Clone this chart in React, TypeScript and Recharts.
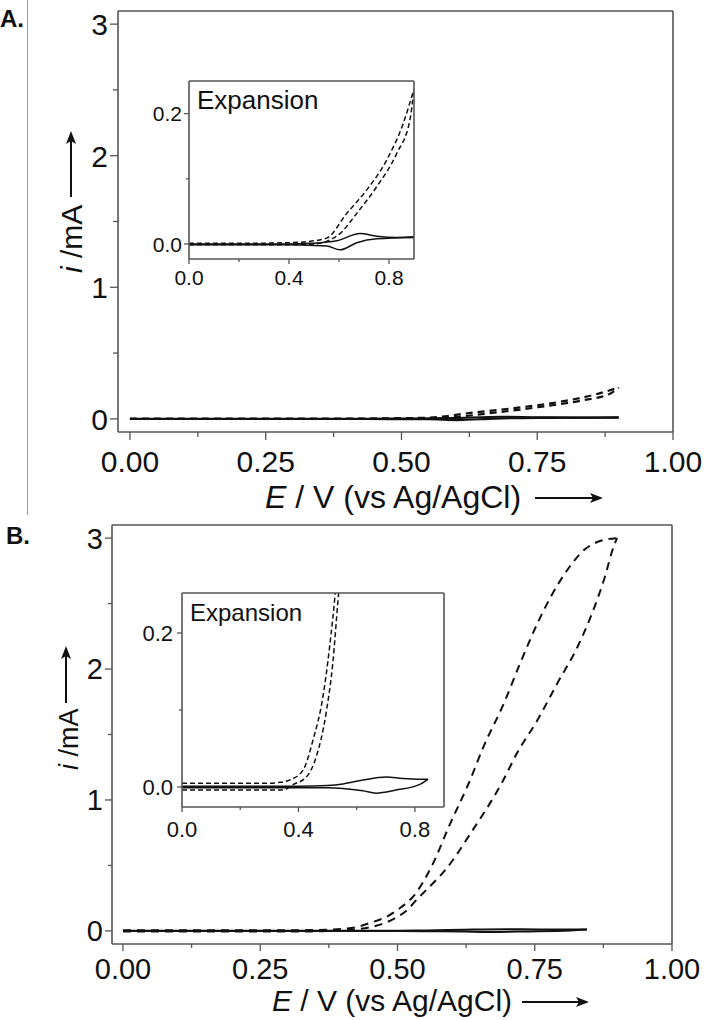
import React from "react";
import { LineChart, Line, XAxis, YAxis } from "recharts";

const FONT = "'Liberation Sans', Arial, Helvetica, sans-serif";
const INK = "#111";
const FRAME = "#555";

// ---------- Panel A data (E in V, i in mA) ----------
const aDashUpE = [0, 0.2, 0.4, 0.48, 0.551, 0.631, 0.711, 0.791, 0.857, 0.9];
const aDashUpI = [0.001, 0.001, 0.002, 0.004, 0.009, 0.047, 0.083, 0.129, 0.185, 0.238];
const aDashLoE = [0, 0.2, 0.4, 0.5, 0.55, 0.604, 0.671, 0.751, 0.831, 0.884, 0.9];
const aDashLoI = [-0.001, -0.001, -0.001, 0.0, 0.004, 0.016, 0.047, 0.088, 0.139, 0.191, 0.238];
const aSolidUpE = [0, 0.2, 0.4, 0.484, 0.591, 0.684, 0.751, 0.831, 0.9];
const aSolidUpI = [0.0, 0.0, 0.0, 0.001, 0.005, 0.016, 0.012, 0.01, 0.011];
const aSolidLoE = [0, 0.2, 0.4, 0.48, 0.551, 0.604, 0.671, 0.751, 0.9];
const aSolidLoI = [-0.001, -0.001, -0.001, -0.002, -0.003, -0.009, 0.002, 0.008, 0.01];

// ---------- Panel B data ----------
const bDashUpE = [0, 0.1, 0.2, 0.3, 0.336, 0.37, 0.416, 0.45, 0.484, 0.507, 0.53, 0.563, 0.596, 0.629, 0.657, 0.694, 0.724, 0.755, 0.779, 0.81, 0.84, 0.864, 0.9];
const bDashUpI = [0.005, 0.005, 0.005, 0.005, 0.006, 0.009, 0.022, 0.061, 0.117, 0.182, 0.27, 0.5, 0.82, 1.12, 1.41, 1.74, 2.05, 2.35, 2.55, 2.76, 2.91, 2.97, 3.0];
const bDashLoE = [0, 0.1, 0.2, 0.3, 0.347, 0.381, 0.427, 0.461, 0.495, 0.518, 0.536, 0.547, 0.588, 0.637, 0.69, 0.718, 0.755, 0.791, 0.828, 0.852, 0.876, 0.895, 0.9];
const bDashLoI = [-0.004, -0.004, -0.004, -0.004, -0.004, 0.003, 0.013, 0.039, 0.096, 0.161, 0.243, 0.29, 0.47, 0.77, 1.13, 1.36, 1.61, 1.89, 2.17, 2.4, 2.68, 2.95, 3.0];
const bSolidUpE = [0, 0.2, 0.4, 0.5, 0.553, 0.621, 0.701, 0.758, 0.815, 0.845];
const bSolidUpI = [0.001, 0.001, 0.001, 0.002, 0.004, 0.009, 0.013, 0.011, 0.01, 0.01];
const bSolidLoE = [0, 0.2, 0.4, 0.5, 0.553, 0.621, 0.667, 0.735, 0.815, 0.845];
const bSolidLoI = [-0.001, -0.001, -0.001, -0.001, -0.002, -0.005, -0.008, -0.004, 0.003, 0.01];

// ---------- Ticks ----------
const mainXTicks = [0, 0.125, 0.25, 0.375, 0.5, 0.625, 0.75, 0.875, 1.0];
const mainXMajor = [0, 0.25, 0.5, 0.75, 1.0];
const mainYTicks = [0, 0.5, 1, 1.5, 2, 2.5, 3];
const mainYMajor = [0, 1, 2, 3];
const insetXTicks = [0, 0.2, 0.4, 0.6, 0.8];
const insetXMajor = [0, 0.4, 0.8];
const insetYTicks = [0, 0.1, 0.2];
const insetYMajor = [0, 0.2];

const toPts = (E: number[], I: number[]) => E.map((e, k) => ({ E: e, i: I[k] }));

const seriesA = [
  { key: "aSolidUp", data: toPts(aSolidUpE, aSolidUpI), dashed: false },
  { key: "aSolidLo", data: toPts(aSolidLoE, aSolidLoI), dashed: false },
  { key: "aDashUp", data: toPts(aDashUpE, aDashUpI), dashed: true },
  { key: "aDashLo", data: toPts(aDashLoE, aDashLoI), dashed: true },
];
const seriesB = [
  { key: "bSolidUp", data: toPts(bSolidUpE, bSolidUpI), dashed: false },
  { key: "bSolidLo", data: toPts(bSolidLoE, bSolidLoI), dashed: false },
  { key: "bDashUp", data: toPts(bDashUpE, bDashUpI), dashed: true },
  { key: "bDashLo", data: toPts(bDashLoE, bDashLoI), dashed: true },
];

const isIn = (arr: number[], v: number) => arr.some((m) => Math.abs(m - v) < 1e-6);

type Cfg = {
  left: number; top: number; width: number; height: number;
  margin: { top: number; right: number; bottom: number; left: number };
  yW: number; xH: number;
  xDomain: [number, number]; yDomain: [number, number];
  xTicks: number[]; xMajor: number[]; yTicks: number[]; yMajor: number[];
  xFmt: (v: number) => string; yFmt: (v: number) => string;
  fontX: number; fontY: number; xLabOff: number; yLabOff: number;
  tickLen: number; minorLen: number;
  lineW: number; dash: string;
  series: { key: string; data: { E: number; i: number }[]; dashed: boolean }[];
};

function CV({ c }: { c: Cfg }) {
  const XTick = (p: any) => {
    const { x, y, payload } = p;
    const v = payload.value;
    const major = isIn(c.xMajor, v);
    return (
      <g>
        <line x1={x} x2={x} y1={y} y2={y + (major ? c.tickLen : c.minorLen)} stroke={FRAME} strokeWidth={1.3} />
        {major && (
          <text x={x} y={y + c.xLabOff} textAnchor="middle" fontSize={c.fontX} fontFamily={FONT} fill={INK}>
            {c.xFmt(v)}
          </text>
        )}
      </g>
    );
  };
  const YTick = (p: any) => {
    const { x, y, payload } = p;
    const v = payload.value;
    const major = isIn(c.yMajor, v);
    return (
      <g>
        <line x1={x} x2={x - (major ? c.tickLen : c.minorLen)} y1={y} y2={y} stroke={FRAME} strokeWidth={1.3} />
        {major && (
          <text x={x - c.yLabOff} y={y} dy="0.36em" textAnchor="end" fontSize={c.fontY} fontFamily={FONT} fill={INK}>
            {c.yFmt(v)}
          </text>
        )}
      </g>
    );
  };
  const axisLine = { stroke: FRAME, strokeWidth: 1.6 };
  const m = c.margin;
  return (
    <div style={{ position: "absolute", left: c.left, top: c.top, width: c.width, height: c.height }}>
      <LineChart
        width={c.width}
        height={c.height}
        margin={{ top: m.top - 1, right: m.right - 1, bottom: m.bottom, left: m.left }}
      >
        <XAxis
          xAxisId="b" dataKey="E" type="number" domain={c.xDomain} allowDataOverflow
          ticks={c.xTicks} interval={0} tick={XTick} tickLine={false} tickSize={0} tickMargin={0}
          height={c.xH} axisLine={axisLine}
        />
        <XAxis
          xAxisId="t" orientation="top" dataKey="E" type="number" domain={c.xDomain} allowDataOverflow
          tick={false} tickLine={false} height={1} axisLine={axisLine}
        />
        <YAxis
          yAxisId="l" type="number" domain={c.yDomain} allowDataOverflow
          ticks={c.yTicks} interval={0} tick={YTick} tickLine={false} tickSize={0} tickMargin={0}
          width={c.yW} axisLine={axisLine}
        />
        <YAxis
          yAxisId="r" orientation="right" type="number" domain={c.yDomain} allowDataOverflow
          tick={false} tickLine={false} width={1} axisLine={axisLine}
        />
        {c.series.map((s) => (
          <Line
            key={s.key} xAxisId="b" yAxisId="l" data={s.data} dataKey="i" type="monotone"
            stroke={INK} strokeWidth={c.lineW} strokeDasharray={s.dashed ? c.dash : undefined}
            dot={false} activeDot={false} isAnimationActive={false} legendType="none"
          />
        ))}
      </LineChart>
    </div>
  );
}

const f2 = (v: number) => v.toFixed(2);
const f1 = (v: number) => v.toFixed(1);
const f0 = (v: number) => v.toFixed(0);

const mainA: Cfg = {
  left: 0, top: 0, width: 705, height: 520,
  margin: { top: 11, right: 32, bottom: 38, left: 58 }, yW: 60, xH: 50,
  xDomain: [-0.022, 1.0], yDomain: [-0.1, 3.1],
  xTicks: mainXTicks, xMajor: mainXMajor, yTicks: mainYTicks, yMajor: mainYMajor,
  xFmt: f2, yFmt: f0, fontX: 30, fontY: 30, xLabOff: 40, yLabOff: 10,
  tickLen: 8, minorLen: 5, lineW: 2.2, dash: "7 5", series: seriesA,
};
const insetA: Cfg = {
  left: 130, top: 60, width: 300, height: 240,
  margin: { top: 21, right: 16, bottom: 0, left: 19 }, yW: 40, xH: 41,
  xDomain: [0, 0.9], yDomain: [-0.023, 0.25],
  xTicks: insetXTicks, xMajor: insetXMajor, yTicks: insetYTicks, yMajor: insetYMajor,
  xFmt: f1, yFmt: f1, fontX: 21, fontY: 21, xLabOff: 26, yLabOff: 7,
  tickLen: 5, minorLen: 3, lineW: 1.5, dash: "5 3", series: seriesA,
};
const mainB: Cfg = {
  left: 0, top: 510, width: 705, height: 510,
  margin: { top: 15, right: 33, bottom: 26, left: 52 }, yW: 60, xH: 50,
  xDomain: [-0.02, 1.0], yDomain: [-0.1, 3.1],
  xTicks: mainXTicks, xMajor: mainXMajor, yTicks: mainYTicks, yMajor: mainYMajor,
  xFmt: f2, yFmt: f0, fontX: 29, fontY: 29, xLabOff: 35, yLabOff: 9,
  tickLen: 7, minorLen: 4, lineW: 2, dash: "8 6", series: seriesB,
};
const insetB: Cfg = {
  left: 120, top: 570, width: 340, height: 275,
  margin: { top: 23, right: 16, bottom: 0, left: 22 }, yW: 40, xH: 38,
  xDomain: [0, 0.9], yDomain: [-0.026, 0.252],
  xTicks: insetXTicks, xMajor: insetXMajor, yTicks: insetYTicks, yMajor: insetYMajor,
  xFmt: f1, yFmt: f1, fontX: 22, fontY: 22, xLabOff: 30, yLabOff: 9,
  tickLen: 5, minorLen: 3, lineW: 1.5, dash: "5 3", series: seriesB,
};

function ArrowH({ x1, x2, y }: { x1: number; x2: number; y: number }) {
  return (
    <g>
      <line x1={x1} x2={x2 - 8} y1={y} y2={y} stroke={INK} strokeWidth={2} />
      <polygon points={`${x2},${y} ${x2 - 13},${y - 5} ${x2 - 10},${y} ${x2 - 13},${y + 5}`} fill={INK} />
    </g>
  );
}
function ArrowV({ x, y1, y2 }: { x: number; y1: number; y2: number }) {
  return (
    <g>
      <line x1={x} x2={x} y1={y1} y2={y2 + 8} stroke={INK} strokeWidth={2} />
      <polygon points={`${x},${y2} ${x - 5},${y2 + 13} ${x},${y2 + 10} ${x + 5},${y2 + 13}`} fill={INK} />
    </g>
  );
}

function Overlay() {
  return (
    <svg width={705} height={1020} style={{ position: "absolute", left: 0, top: 0, pointerEvents: "none" }} fontFamily={FONT}>
      <line x1={27.5} x2={27.5} y1={0} y2={515} stroke="#999" strokeWidth={1} />
      <text x={0} y={27} fontSize={24} fontWeight="bold" fill={INK}>A.</text>
      <text x={6} y={544} fontSize={24} fontWeight="bold" fill={INK}>B.</text>

      <text x={197} y={109} fontSize={26} fill={INK}>Expansion</text>
      <text x={190} y={621} fontSize={24} fill={INK}>Expansion</text>

      <text x={265} y={508} fontSize={32} fill={INK}>
        <tspan fontStyle="italic">E</tspan> / V (vs Ag/AgCl)
      </text>
      <ArrowH x1={535} x2={603} y={498} />

      <text x={272} y={1011} fontSize={30} fill={INK}>
        <tspan fontStyle="italic">E</tspan> / V (vs Ag/AgCl)
      </text>
      <ArrowH x1={522} x2={589} y={1002} />

      <text x={82} y={273} fontSize={30} fill={INK} transform="rotate(-90 82 273)">
        <tspan fontStyle="italic">i</tspan> /mA
      </text>
      <ArrowV x={71} y1={197} y2={131} />

      <text x={78} y={770} fontSize={27} fill={INK} transform="rotate(-90 78 770)">
        <tspan fontStyle="italic">i</tspan> /mA
      </text>
      <ArrowV x={66} y1={703} y2={646} />
    </svg>
  );
}

export default function App() {
  return (
    <div style={{ position: "absolute", left: 0, top: 0, width: 705, height: 1020, background: "#fff", fontFamily: FONT }}>
      <CV c={mainA} />
      <CV c={insetA} />
      <CV c={mainB} />
      <CV c={insetB} />
      <Overlay />
    </div>
  );
}
